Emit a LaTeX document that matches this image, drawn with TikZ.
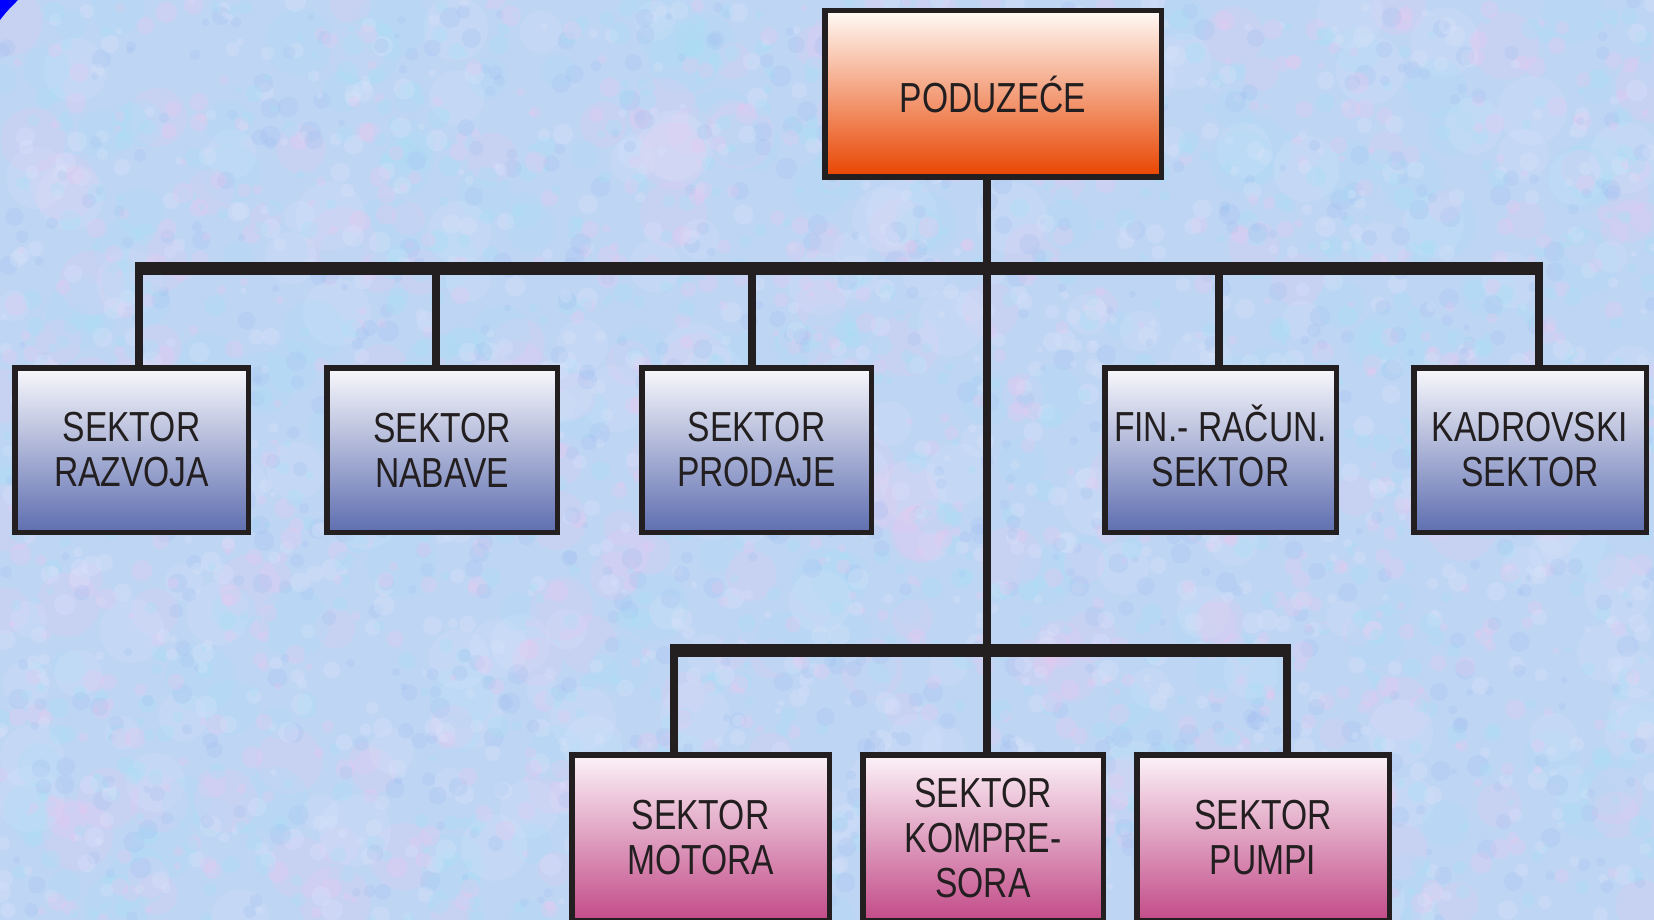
\documentclass[tikz,border=0pt]{standalone}
\usepackage{fontspec}
\setmainfont[FakeStretch=0.8]{Liberation Sans}
\begin{document}
\definecolor{ink}{HTML}{231F20}
\definecolor{paper}{HTML}{BED5F4}
\definecolor{blobpink}{HTML}{EAC8F0}
\definecolor{blobcyan}{HTML}{A8E0F6}
\definecolor{blobblue}{HTML}{9EBCF0}
\definecolor{blobpale}{HTML}{DCE4FA}
\definecolor{orangeA}{HTML}{FFFAF6}
\definecolor{orangeB}{HTML}{F49A7A}
\definecolor{orangeC}{HTML}{E84400}
\definecolor{blueA}{HTML}{F8F8FC}
\definecolor{blueB}{HTML}{ACB2D8}
\definecolor{blueC}{HTML}{5E6EB0}
\definecolor{pinkA}{HTML}{FCF2F8}
\definecolor{pinkB}{HTML}{E0A2C6}
\definecolor{pinkC}{HTML}{C24C88}
\tikzset{
  box/.style={draw=ink, line width=5.5pt, inner sep=0pt, align=center,
    text=ink, font=\fontsize{42}{45}\selectfont},
  headbox/.style={box, top color=orangeA, middle color=orangeB, bottom color=orangeC},
  sectorbox/.style={box, top color=blueA, middle color=blueB, bottom color=blueC,
    minimum height=164.5pt},
  unitbox/.style={box, top color=pinkA, middle color=pinkB, bottom color=pinkC,
    minimum height=165.5pt},
  bus/.style={draw=ink, line width=13pt},
  drop/.style={draw=ink, line width=8pt},
}
\begin{tikzpicture}[x=1pt, y=-1pt]
\useasboundingbox (0,0) rectangle (1654,920);
\clip (0,0) rectangle (1654,920);

% mottled paper background: broad soft patches, then fine speckle
\fill[paper] (0,0) rectangle (1654,920);
\pgfmathsetseed{2024}
\foreach \i in {1,...,500}{
  \pgfmathtruncatemacro\k{3*rnd}
  \pgfmathsetmacro\px{1654*rnd}
  \pgfmathsetmacro\py{920*rnd}
  \pgfmathsetmacro\pr{14+22*rnd}
  \ifcase\k
    \fill[blobpink, opacity=0.22] (\px,\py) circle (\pr);
  \or
    \fill[blobcyan, opacity=0.22] (\px,\py) circle (\pr);
  \else
    \fill[blobpale, opacity=0.22] (\px,\py) circle (\pr);
  \fi
}
\pgfmathsetseed{4711}
\foreach \i in {1,...,3200}{
  \pgfmathtruncatemacro\k{4*rnd}
  \pgfmathsetmacro\px{1654*rnd}
  \pgfmathsetmacro\py{920*rnd}
  \pgfmathsetmacro\pr{3+8*rnd}
  \ifcase\k
    \fill[blobpink, opacity=0.3] (\px,\py) circle (\pr);
  \or
    \fill[blobcyan, opacity=0.3] (\px,\py) circle (\pr);
  \or
    \fill[blobblue, opacity=0.22] (\px,\py) circle (\pr);
  \else
    \fill[blobpale, opacity=0.3] (\px,\py) circle (\pr);
  \fi
}

% blue corner of the page frame
\fill[blue] (0,0) -- (18,0) .. controls (11,7) and (6,12) .. (0,20) -- cycle;

% bus lines
\coordinate (hub1) at (987,268.5);
\coordinate (hub2) at (987,650);
\coordinate (b1L) at (139,268.5);
\coordinate (b1R) at (1539,268.5);
\coordinate (b2L) at (674,650);
\coordinate (b2R) at (1287,650);
\coordinate (t1) at (139,262);
\coordinate (t2) at (436,262);
\coordinate (t3) at (752,262);
\coordinate (t4) at (1219,262);
\coordinate (t5) at (1539,262);
\coordinate (u1) at (674,644);
\coordinate (u2) at (987,644);
\coordinate (u3) at (1287,644);

% boxes
\node[headbox, minimum width=336.5pt, minimum height=166.5pt] (firm) at (993,94) {PODUZEĆE};

\node[sectorbox, minimum width=233.5pt] (razvoj) at (131.5,450) {SEKTOR\\RAZVOJA};
\node[sectorbox, minimum width=230.5pt] (nabava) at (442,450) {SEKTOR\\NABAVE};
\node[sectorbox, minimum width=229.5pt] (prodaja) at (756.5,450) {SEKTOR\\PRODAJE};
\node[sectorbox, minimum width=231.5pt] (finance) at (1220.5,450) {FIN.- RA\smash{Č}UN.\\SEKTOR};
\node[sectorbox, minimum width=232.5pt] (kadrovi) at (1530,450) {KADROVSKI\\SEKTOR};

\node[unitbox, minimum width=257.5pt] (motori) at (700.5,837.5) {SEKTOR\\MOTORA};
\node[unitbox, minimum width=240.5pt, text depth=0pt] (kompresori) at (983,837.5) {SEKTOR\\KOMPRE-\\SORA};
\node[unitbox, minimum width=252.5pt] (pumpe) at (1263,837.5) {SEKTOR\\PUMPI};

% connectors
\draw[drop] (hub1 |- firm.south) -- (hub2);
\draw[bus] (b1L) -- (b1R);
\draw[bus] (b2L) -- (b2R);
\draw[drop] (t1) -- (t1 |- razvoj.north);
\draw[drop] (t2) -- (t2 |- nabava.north);
\draw[drop] (t3) -- (t3 |- prodaja.north);
\draw[drop] (t4) -- (t4 |- finance.north);
\draw[drop] (t5) -- (t5 |- kadrovi.north);
\draw[drop] (u1) -- (u1 |- motori.north);
\draw[drop] (u2) -- (u2 |- kompresori.north);
\draw[drop] (u3) -- (u3 |- pumpe.north);
\end{tikzpicture}
\end{document}
